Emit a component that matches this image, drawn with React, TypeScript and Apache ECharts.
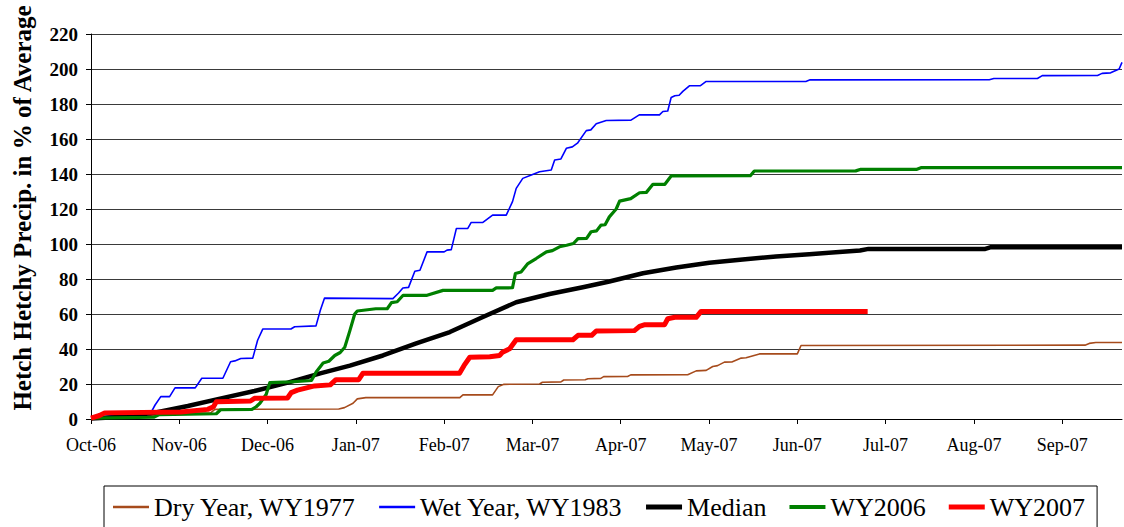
import React, { useEffect, useRef } from "react";
import * as echarts from "echarts";

const monthLabels = ["Oct-06","Nov-06","Dec-06","Jan-07","Feb-07","Mar-07","Apr-07","May-07","Jun-07","Jul-07","Aug-07","Sep-07"];
const tickDays = [0, 31, 62, 93, 124, 155, 186, 217, 248, 279, 310, 341];

const seriesNames = ["Dry Year, WY1977", "Wet Year, WY1983", "Median", "WY2006", "WY2007"];

// [day index, % of average]
const dryYear = [[0,0.5],[20,1.5],[24,3],[42,3.5],[43.5,5.5],[87,5.7],[89,6.5],[92,9],[93.5,11.5],[96.5,12.2],[129.5,12.2],[130.6,13.8],[141,13.8],[143,18.5],[145,19.8],[157.5,20],[158.5,21],[165,21.2],[166,22.3],[173.5,22.4],[174.5,23],[179,23.2],[180,24.2],[188.4,24.3],[189.5,25.2],[209.5,25.3],[212.5,27.5],[216,27.8],[218.3,30],[220,30.5],[222.4,32.5],[225,32.6],[228.3,34.8],[230,35],[234.7,37.2],[248,37.2],[249.3,42],[349,42.2],[350.5,43.2],[352.8,43.7],[362,43.7]];

const wetYear = [[0,0.5],[8,2],[21,3.5],[22.5,8],[24.5,12.8],[27.6,12.8],[29.5,17.8],[36.6,17.8],[38.9,23.3],[46.3,23.3],[49,32.7],[50.5,33.2],[52.6,34.6],[56.8,34.8],[58.5,45],[60.3,51.4],[70.2,51.4],[71.5,52.7],[79,53.2],[80.5,62],[82,69.1],[106,68.8],[108,72],[109.5,74.9],[111.5,75.2],[113.7,84.4],[115.5,85],[118,95.5],[124,95.5],[125,96.5],[126.5,96.8],[128.3,108.9],[132.3,108.9],[133.5,112.3],[137.6,112.3],[141,116.5],[145.8,116.5],[148,124.2],[149.3,131.8],[151.6,137.5],[154.6,139.4],[157.5,141.3],[161.6,142.3],[162.8,148],[165,148.6],[166.9,154.7],[169,155.5],[170.8,157.6],[173.9,164.8],[175.5,165.2],[177.4,168.7],[180.9,170.6],[189.6,170.8],[192.5,173.8],[199.6,173.8],[200.8,175.7],[202.5,176],[203.7,183.7],[205,184.7],[206.5,185],[207.8,187.2],[210.1,190.4],[214,190.5],[216,192.9],[251,192.9],[252.5,193.8],[315.4,193.9],[317,194.6],[332.3,194.6],[334,196.2],[353.4,196.3],[355,197.5],[358,197.8],[361,200],[362,203.8]];

const median = [[0,0.3],[10,1.2],[22.3,3.6],[34,7.4],[45.7,11.8],[57.4,16],[69.1,20.8],[80.8,26.2],[90.9,30.5],[102.5,36.3],[114.2,43.2],[126,49.7],[137.6,58.3],[149.3,66.7],[161,71.4],[172.7,75.3],[182,78.6],[193.8,83.3],[205.5,86.6],[217.1,89.3],[228.8,91.2],[240.5,92.8],[252.2,94.2],[263.9,95.6],[270,96.3],[273,97.2],[314,97.2],[316,98.2],[362,98.2]];

const wy2006 = [[0,0.5],[22,1],[24,2.5],[44,3],[45.5,5.3],[56.5,5.5],[58,7],[59.3,9],[61.5,14],[62.8,20.8],[70,21.2],[77.4,22],[79.2,27.2],[81.5,32],[83.5,33],[85.6,36.3],[87.5,38],[89.1,41],[90.9,50.5],[92.6,60],[93.5,61.7],[100,63],[104,63],[105.5,66.5],[107.5,67],[109.6,70.7],[118,70.7],[123.6,73.5],[141,73.5],[142.3,74.9],[148,75],[149,83.1],[151,84],[153.4,88.8],[156.3,91.7],[159.9,95.5],[162,96.2],[164.5,98.4],[167,99.3],[169.4,100.3],[171,103.1],[174,103.2],[175.6,107],[177.5,107.5],[179.1,110.8],[180.5,111],[182,115.5],[184.4,120],[185.6,124.5],[189.5,125.9],[192.6,129.3],[195,129.5],[197.3,134.1],[201.5,134.1],[203.7,138.9],[231.5,139],[232.9,141.7],[268.5,141.8],[270.3,142.7],[290,142.7],[291.4,143.6],[362,143.6]];

const wy2007 = [[0,0.5],[3,2],[4.8,3.5],[31.6,4],[41,5.5],[43,7],[44,9.9],[56,10.3],[57.4,11.8],[69,12],[70.3,15.1],[72.5,16.5],[75,17.5],[78.5,18.9],[84,19.5],[86,22.5],[94,22.5],[95.5,26.2],[129.4,26.2],[131,30.6],[133,35.3],[140,35.6],[143.5,36.3],[144.5,38.2],[147,40.1],[149.3,45.3],[169.2,45.3],[171,47.8],[175.8,47.8],[177.4,50.3],[190.8,50.5],[192.6,52.9],[194.5,53.9],[201.4,53.9],[202.5,57.3],[205,58.1],[212.5,58.1],[214.2,61.5],[272.7,61.5]];

const allData = [dryYear, wetYear, median, wy2006, wy2007];
const colors = ["#A64B1C", "#0000FF", "#000000", "#008000", "#FF0000"];
const widths = [1.6, 1.6, 4.5, 3.2, 5];
const legendIcons = [
  "path://M0,0H36V2.5H0Z",
  "path://M0,0H36V2.5H0Z",
  "path://M0,0H36V5H0Z",
  "path://M0,0H36V4H0Z",
  "path://M0,0H36V5H0Z",
];

const FONT = "Liberation Serif";

export default function App() {
  const ref = useRef<HTMLDivElement>(null);
  useEffect(() => {
    if (!ref.current) return;
    const chart = echarts.init(ref.current, undefined, { renderer: "svg" });
    chart.setOption({
      animation: false,
      backgroundColor: "#ffffff",
      grid: { left: 91, right: 2, top: 34, bottom: 108 },
      xAxis: {
        type: "value",
        min: 0,
        max: 362,
        axisLine: { show: true, lineStyle: { color: "#000", width: 1 } },
        axisTick: { show: true, customValues: tickDays, length: 5, lineStyle: { color: "#000" } },
        axisLabel: {
          customValues: tickDays,
          formatter: (v: number) => monthLabels[Math.round(v / 31)] ?? "",
          fontFamily: FONT,
          fontSize: 18,
          color: "#000",
          margin: 17,
        },
        splitLine: { show: false },
      },
      yAxis: {
        type: "value",
        min: 0,
        max: 220,
        interval: 20,
        axisLine: { show: true, lineStyle: { color: "#000", width: 1 } },
        axisTick: { show: true, length: 5, lineStyle: { color: "#000" } },
        axisLabel: {
          fontFamily: FONT,
          fontSize: 19,
          fontWeight: "bold",
          color: "#000",
          margin: 13,
        },
        splitLine: { show: true, lineStyle: { color: "#3a3a3a", width: 1 } },
      },
      legend: {
        left: 104,
        top: 486,
        padding: [8, 12, 30, 9],
        itemGap: 23,
        itemWidth: 36,
        itemHeight: 30,
        symbolKeepAspect: true,
        borderColor: "#000",
        borderWidth: 1,
        textStyle: { fontFamily: FONT, fontSize: 26, color: "#000" },
        data: seriesNames.map((n, i) => ({ name: n, icon: legendIcons[i], itemStyle: { color: colors[i] } })),
      },
      graphic: [
        {
          type: "text",
          x: 22,
          y: 208,
          rotation: Math.PI / 2,
          style: {
            text: "Hetch Hetchy Precip. in % of Average",
            fontFamily: FONT,
            fontSize: 25,
            fontWeight: "bold",
            fill: "#000",
            textAlign: "center",
            textVerticalAlign: "middle",
          },
        },
      ],
      series: seriesNames.map((n, i) => ({
        name: n,
        type: "line",
        data: allData[i],
        symbol: "none",
        showSymbol: false,
        lineStyle: { color: colors[i], width: widths[i], join: "round" },
        itemStyle: { color: colors[i] },
        z: 2 + i,
      })),
    });
    return () => chart.dispose();
  }, []);
  return <div ref={ref} style={{ position: "absolute", left: 0, top: 0, width: 1124, height: 527 }} />;
}
